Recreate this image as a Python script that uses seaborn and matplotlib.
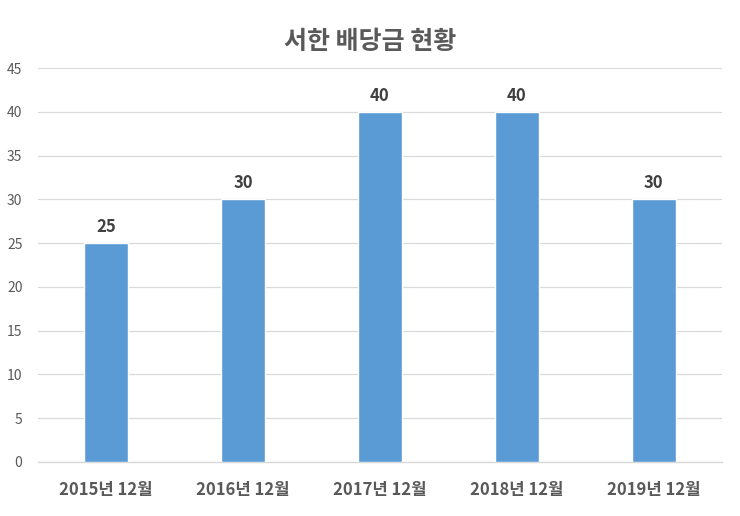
import numpy as np
import pandas as pd
import seaborn as sns
import matplotlib.pyplot as plt

categories = ["2015년 12월", "2016년 12월", "2017년 12월", "2018년 12월", "2019년 12월"]
dividends = [25, 30, 40, 40, 30]
y_ticks = [0, 5, 10, 15, 20, 25, 30, 35, 40, 45]

df = pd.DataFrame({"period": categories, "dividend": dividends})

sns.set_style("white")
plt.rcParams['font.family'] = ['Noto Sans CJK KR', 'DejaVu Sans']

fig = plt.figure(figsize=(7.4, 5.16), dpi=100)
ax = fig.add_axes([0.051, 0.1047, 0.925, 0.7635])

sns.barplot(data=df, x="period", y="dividend", color="#5B9BD5", saturation=1,
            width=0.32, ax=ax, zorder=3)

ax.set_ylim(0, 45)
ax.set_xlim(-0.5, 4.5)
ax.set_yticks(y_ticks)
ax.yaxis.grid(True, color="#D9D9D9", linewidth=0.9, zorder=0)
ax.set_axisbelow(True)
for s in ["top", "right", "left"]:
    ax.spines[s].set_visible(False)
ax.spines["bottom"].set_color("#D9D9D9")
ax.spines["bottom"].set_linewidth(1.0)
ax.tick_params(axis="both", length=0)
ax.tick_params(axis="y", labelsize=10, labelcolor="#595959", pad=11)
ax.tick_params(axis="x", labelsize=12, labelcolor="#595959", pad=14)
for lbl in ax.get_xticklabels():
    lbl.set_fontweight("bold")
ax.set_xlabel("")
ax.set_ylabel("")

for i, v in enumerate(dividends):
    ax.text(i, v + 0.8, str(v), ha="center", va="bottom", fontsize=12,
            fontweight="bold", color="#404040")

fig.text(0.5, 0.918, "서한 배당금 현황", ha="center", va="center", fontsize=18,
         fontweight="bold", color="#595959")

fig.savefig("out.png", dpi=100)
